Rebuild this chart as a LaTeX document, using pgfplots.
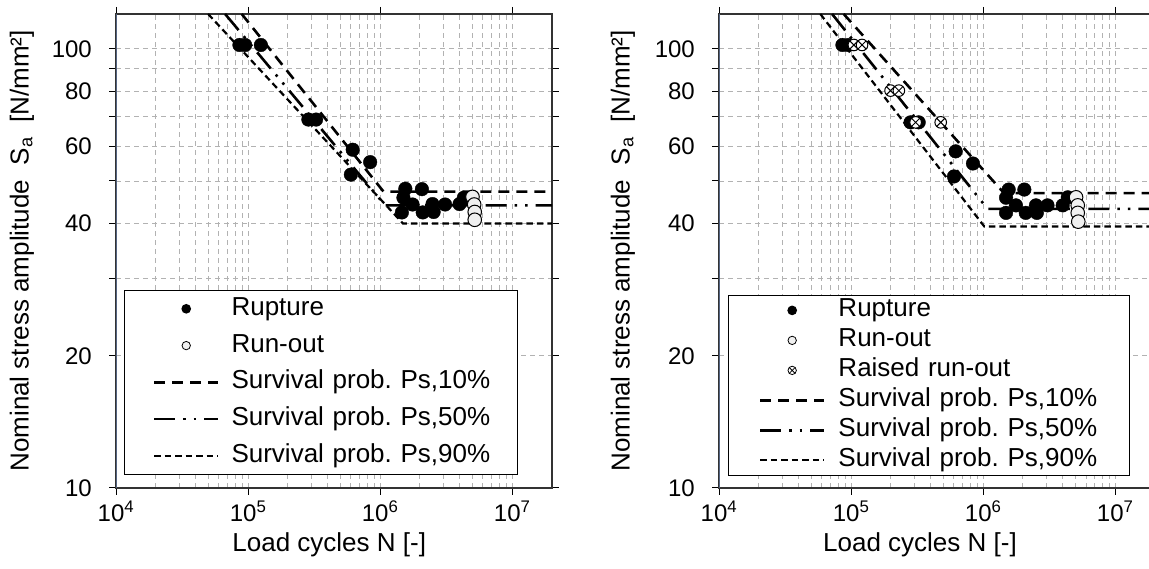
\documentclass[border=0pt]{standalone}
\usepackage{fontspec}
\setmainfont{Liberation Sans}
\usepackage{pgfplots}
\pgfplotsset{compat=1.18}
\frenchspacing

\definecolor{gridc}{RGB}{178,178,178}
\definecolor{yaxc}{RGB}{84,100,130}
\definecolor{roc}{RGB}{240,240,240}

\newcommand{\tl}[1]{\textnormal{\fontsize{24}{28}\selectfont #1}}

\tikzset{
 l10/.style={black, line width=2.6pt, dash pattern=on 11pt off 7pt},
 l50/.style={black, line width=2.6pt, dash pattern=on 21pt off 8pt on 2.5pt off 8pt on 2.5pt off 8pt},
 l90/.style={black, line width=2.2pt, dash pattern=on 6.5pt off 4pt},
}

\begin{document}
\begin{tikzpicture}[font=\fontsize{24}{28}\selectfont]
% ---------------- left ----------------
\begin{axis}[
  xmode=log, ymode=log,
  scale only axis, width=436pt, height=474pt,
  at={(116pt,81pt)}, anchor=south west,
  xmin=1e4, xmax=2e7, ymin=10, ymax=120,
  xtick={1e4,1e5,1e6,1e7},
  xticklabels={\tl{10\textsuperscript{4}},\tl{10\textsuperscript{5}},\tl{10\textsuperscript{6}},\tl{10\textsuperscript{7}}},
  minor xtick={2e4,3e4,4e4,5e4,6e4,7e4,8e4,9e4,2e5,3e5,4e5,5e5,6e5,7e5,8e5,9e5,2e6,3e6,4e6,5e6,6e6,7e6,8e6,9e6,2e7},
  ytick={10,20,30,40,50,60,70,80,90,100},
  yticklabels={\tl{10},\tl{20},,\tl{40},,\tl{60},,\tl{80},,\tl{100}},
  xmajorgrids, xminorgrids, ymajorgrids,
  grid style={gridc, line width=0.9pt, dash pattern=on 5pt off 4pt},
  tick align=outside, major tick length=7pt, minor tick length=0pt,
  tick style={black, line width=1pt},
  axis line style={line width=1.6pt, black!80},
  xticklabel style={yshift=-2pt},
  yticklabel style={inner xsep=0pt, xshift=-17pt},
  xlabel={Load cycles N [-]},
  ylabel={Nominal stress amplitude\ \ S\textsubscript{a}\ \ [N/mm²]},
  xlabel style={font=\fontsize{26}{30}\selectfont, at={(rel axis cs:0.489,0)}, anchor=center, yshift=-57pt},
  ylabel style={font=\fontsize{26}{30}\selectfont, at={(rel axis cs:0,0.5)}, anchor=center, yshift=94pt},
  legend cell align=left,
  legend style={at={(rel axis cs:0.0184,0.0274)}, anchor=south west, draw=black, line width=1.2pt, fill=white,
    inner ysep=0pt, inner xsep=0pt, row sep=0pt, font=\fontsize{26}{30}\selectfont,
    nodes={text height=19pt, text depth=6pt, inner ysep=5.9pt, inner xsep=12pt, text width=274pt, align=left}},
]
\draw[yaxc, line width=1.6pt] (rel axis cs:0,0) -- (rel axis cs:0,1);
\addplot[l10, forget plot] coordinates {(8.95e4,120) (1.06e6,47.3) (2e7,47.3)};
\addplot[l50, forget plot] coordinates {(6.70e4,120) (1.09e6,44.0) (2e7,44.0)};
\addplot[l90, forget plot] coordinates {(4.98e4,120) (1.49e6,40.0) (2e7,40.0)};
\addplot[only marks, mark=*, mark size=6.8pt, mark options={fill=black, draw=black}, forget plot] coordinates {
 (8.6e4,102) (9.5e4,102) (1.25e5,102) (2.86e5,69) (3.27e5,69)
 (6.2e5,58.9) (8.4e5,55.2) (6.0e5,51.7)
 (1.55e6,48.0) (2.07e6,47.9) (1.50e6,45.8)
 (1.76e6,44.2) (2.49e6,44.3) (3.1e6,44.2) (3.99e6,44.3) (4.3e6,45.8)
 (1.46e6,42.4) (2.1e6,42.4) (2.54e6,42.5)};
\addplot[only marks, mark=*, mark size=6.8pt, mark options={fill=roc, draw=black, line width=1pt}, forget plot] coordinates {(5.0e6,46.0) (5.15e6,44.2) (5.2e6,42.5) (5.2e6,40.8)};
\addlegendimage{legend image code/.code={\path (0pt,0pt) (93pt,0pt); \fill[black] (61pt,0pt) circle (4.2pt);}}
\addlegendentry{Rupture}
\addlegendimage{legend image code/.code={\path (0pt,0pt) (93pt,0pt); \filldraw[fill=roc, draw=black, line width=0.8pt] (61pt,0pt) circle (4.2pt);}}
\addlegendentry{Run-out}
\addlegendimage{legend image code/.code={\path (0pt,0pt) (93pt,0pt); \draw[l10] (29pt,0pt) -- (93pt,0pt);}}
\addlegendentry{Survival prob. Ps,10\%}
\addlegendimage{legend image code/.code={\path (0pt,0pt) (93pt,0pt); \draw[l50] (29pt,0pt) -- (93pt,0pt);}}
\addlegendentry{Survival prob. Ps,50\%}
\addlegendimage{legend image code/.code={\path (0pt,0pt) (93pt,0pt); \draw[l90] (29pt,0pt) -- (93pt,0pt);}}
\addlegendentry{Survival prob. Ps,90\%}
\end{axis}
% ---------------- right ----------------
\begin{axis}[
  xmode=log, ymode=log,
  scale only axis, width=436pt, height=474pt,
  at={(719pt,81pt)}, anchor=south west,
  xmin=1e4, xmax=2e7, ymin=10, ymax=120,
  xtick={1e4,1e5,1e6,1e7},
  xticklabels={\tl{10\textsuperscript{4}},\tl{10\textsuperscript{5}},\tl{10\textsuperscript{6}},\tl{10\textsuperscript{7}}},
  minor xtick={2e4,3e4,4e4,5e4,6e4,7e4,8e4,9e4,2e5,3e5,4e5,5e5,6e5,7e5,8e5,9e5,2e6,3e6,4e6,5e6,6e6,7e6,8e6,9e6,2e7},
  ytick={10,20,30,40,50,60,70,80,90,100},
  yticklabels={\tl{10},\tl{20},,\tl{40},,\tl{60},,\tl{80},,\tl{100}},
  xmajorgrids, xminorgrids, ymajorgrids,
  grid style={gridc, line width=0.9pt, dash pattern=on 5pt off 4pt},
  tick align=outside, major tick length=7pt, minor tick length=0pt,
  tick style={black, line width=1pt},
  axis line style={line width=1.6pt, black!80},
  xticklabel style={yshift=-2pt},
  yticklabel style={inner xsep=0pt, xshift=-17pt},
  xlabel={Load cycles N [-]},
  ylabel={Nominal stress amplitude\ \ S\textsubscript{a}\ \ [N/mm²]},
  xlabel style={font=\fontsize{26}{30}\selectfont, at={(rel axis cs:0.461,0)}, anchor=center, yshift=-57pt},
  ylabel style={font=\fontsize{26}{30}\selectfont, at={(rel axis cs:0,0.5)}, anchor=center, yshift=96pt},
  legend cell align=left,
  legend style={at={(rel axis cs:0.0206,0.0253)}, anchor=south west, draw=black, line width=1.2pt, fill=white,
    inner ysep=0pt, inner xsep=0pt, row sep=0pt, font=\fontsize{26}{30}\selectfont,
    nodes={text height=19pt, text depth=6pt, inner ysep=2.5pt, inner xsep=13pt, text width=278pt, align=left}},
]
\draw[yaxc, line width=1.6pt] (rel axis cs:0,0) -- (rel axis cs:0,1);
\addplot[l10, forget plot] coordinates {(8.79e4,120) (1.44e6,46.9) (2e7,46.9)};
\addplot[l50, forget plot] coordinates {(7.18e4,120) (1.08e6,43.2) (2e7,43.2)};
\addplot[l90, forget plot] coordinates {(5.85e4,120) (1.02e6,39.4) (2e7,39.4)};
\addplot[only marks, mark=*, mark size=6.8pt, mark options={fill=black, draw=black}, forget plot] coordinates {
 (8.6e4,102) (9.5e4,102) (2.82e5,68) (3.25e5,68)
 (6.19e5,58.4) (8.37e5,54.8) (6.01e5,51.2)
 (1.56e6,47.8) (2.05e6,47.8) (1.49e6,45.8)
 (1.77e6,44.0) (2.51e6,44.0) (3.07e6,44.0) (4.0e6,44.0) (4.37e6,45.9)
 (1.49e6,42.3) (2.1e6,42.3) (2.55e6,42.3)};
\addplot[only marks, mark=*, mark size=6.8pt, mark options={fill=roc, draw=black, line width=1pt}, forget plot] coordinates {(5.05e6,45.9) (5.2e6,44.0) (5.2e6,42.3) (5.25e6,40.4)};
\addplot[only marks, mark=otimes*, mark size=5.8pt, mark options={fill=white, draw=black, line width=1pt}, forget plot] coordinates {(1.05e5,102) (1.21e5,102) (1.99e5,80.3) (2.30e5,80.3) (3.08e5,68) (4.77e5,68)};
\addlegendimage{legend image code/.code={\path (0pt,0pt) (95pt,0pt); \fill[black] (63pt,0pt) circle (4.2pt);}}
\addlegendentry{Rupture}
\addlegendimage{legend image code/.code={\path (0pt,0pt) (95pt,0pt); \filldraw[fill=roc, draw=black, line width=0.8pt] (63pt,0pt) circle (4.2pt);}}
\addlegendentry{Run-out}
\addlegendimage{legend image code/.code={\path (0pt,0pt) (95pt,0pt); \filldraw[fill=white, draw=black, line width=0.8pt] (63pt,0pt) circle (4.2pt); \draw[black, line width=0.8pt] (60pt,-3pt) -- (66pt,3pt) (60pt,3pt) -- (66pt,-3pt);}}
\addlegendentry{Raised run-out}
\addlegendimage{legend image code/.code={\path (0pt,0pt) (95pt,0pt); \draw[l10] (31pt,0pt) -- (95pt,0pt);}}
\addlegendentry{Survival prob. Ps,10\%}
\addlegendimage{legend image code/.code={\path (0pt,0pt) (95pt,0pt); \draw[l50] (31pt,0pt) -- (95pt,0pt);}}
\addlegendentry{Survival prob. Ps,50\%}
\addlegendimage{legend image code/.code={\path (0pt,0pt) (95pt,0pt); \draw[l90] (31pt,0pt) -- (95pt,0pt);}}
\addlegendentry{Survival prob. Ps,90\%}
\end{axis}
\pgfresetboundingbox
\path[use as bounding box] (0pt,0pt) rectangle (1149pt,569pt);
\end{tikzpicture}
\end{document}
